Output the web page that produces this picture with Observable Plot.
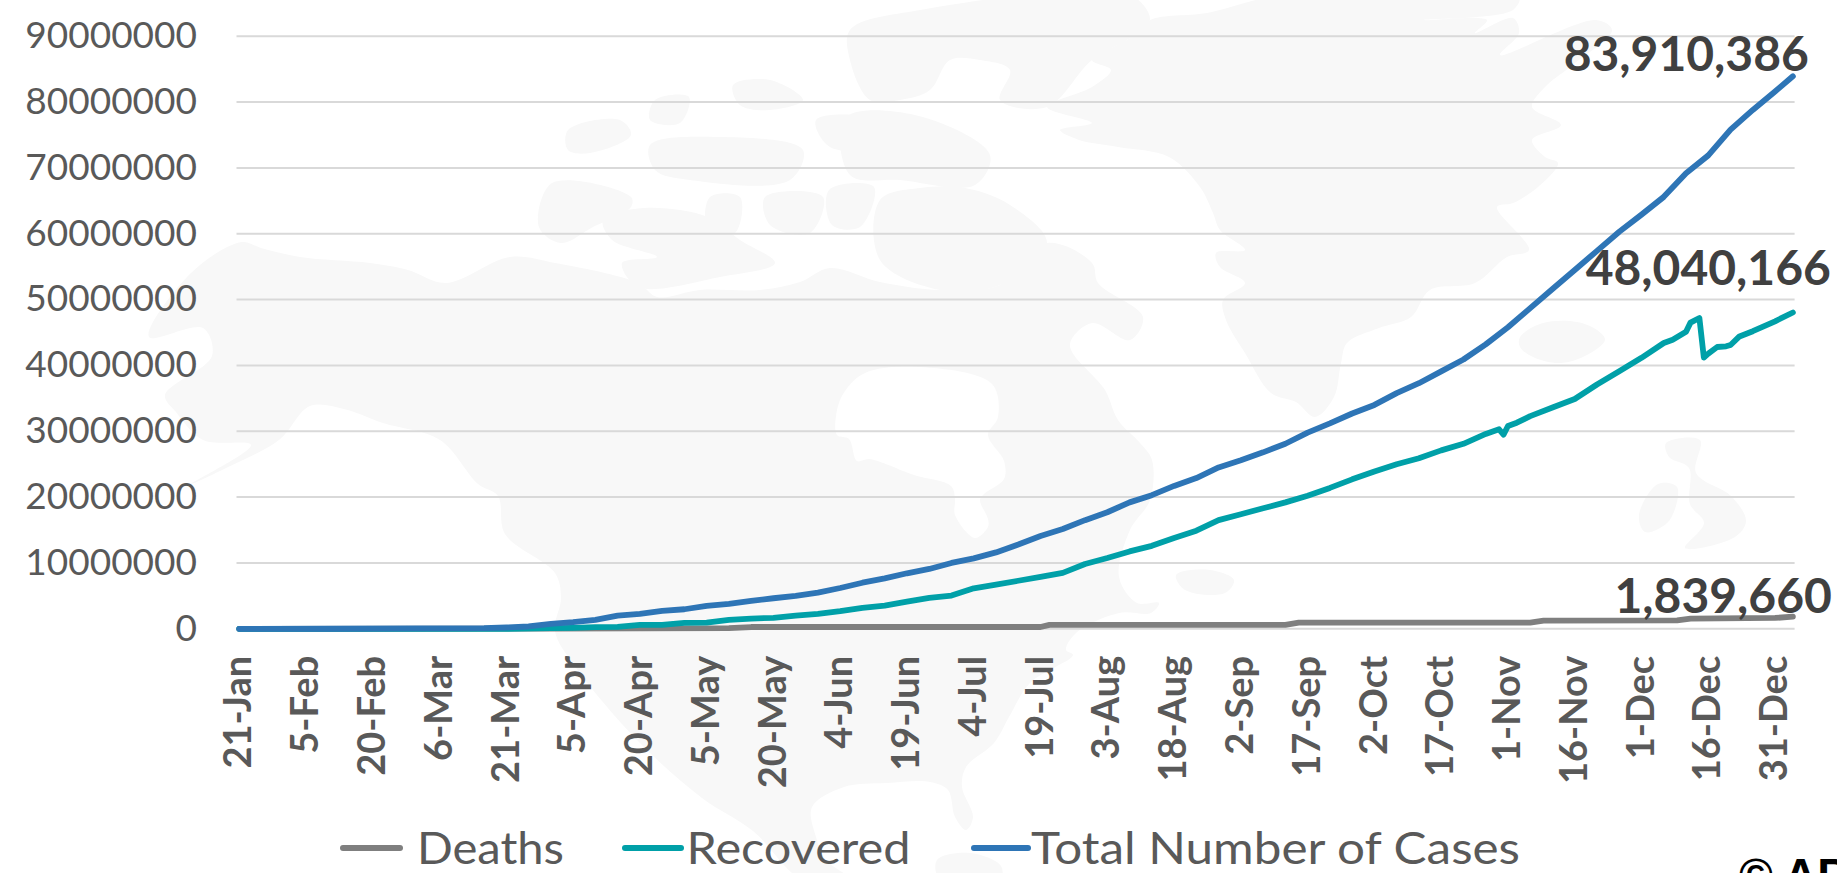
<!DOCTYPE html>
<html>
<head>
<meta charset="utf-8">
<script src="https://cdn.jsdelivr.net/npm/d3@7"></script>
<script src="https://cdn.jsdelivr.net/npm/@observablehq/plot@0.6"></script>
<style>
html,body{margin:0;padding:0;background:#fff;overflow:hidden}
svg{display:block}
</style>
</head>
<body>
<div id="chart"></div>
<script>
// ---- data (values in millions, days counted from 21-Jan-2020) ----
const tickLabels = ["21-Jan","5-Feb","20-Feb","6-Mar","21-Mar","5-Apr","20-Apr","5-May","20-May","4-Jun","19-Jun","4-Jul","19-Jul","3-Aug","18-Aug","2-Sep","17-Sep","2-Oct","17-Oct","1-Nov","16-Nov","1-Dec","16-Dec","31-Dec"];
const yTicks = [0,10,20,30,40,50,60,70,80,90];

const totalDays = [0,20,40,55,60,65,70,75,80,85,90,95,100,105,110,115,120,125,130,135,140,145,150,155,160,165,170,175,180,185,190,195,200,205,210,215,220,225,230,235,240,245,250,255,260,265,270,275,280,285,290,295,300,305,310,315,320,325,330,335,340,345,349];
const totalCases = [0,0.01,0.05,0.1,0.2,0.35,0.75,1.0,1.36,2.0,2.27,2.72,2.97,3.48,3.79,4.24,4.64,5.0,5.5,6.2,7.0,7.67,8.43,9.09,10.0,10.7,11.6,12.8,14.1,15.15,16.5,17.7,19.2,20.3,21.7,22.9,24.5,25.6,26.8,28.1,29.8,31.2,32.7,34.0,35.8,37.3,39.1,40.9,43.2,45.8,48.7,51.6,54.5,57.4,60.3,62.9,65.6,69.2,71.9,75.8,78.8,81.6,83.910386];

const recoveredDays = [0,60,70,75,80,85,90,95,100,105,110,115,120,125,130,135,140,145,150,155,160,165,170,175,180,185,190,195,200,205,210,215,220,225,230,235,240,245,250,255,260,265,270,275,280,283,284,285,287,290,295,300,305,310,315,320,322,325,326,328,329,330,332,334,335,337,340,345,349];
const recovered = [0,0,0.1,0.15,0.25,0.3,0.6,0.6,0.9,0.95,1.36,1.56,1.67,2.0,2.27,2.67,3.18,3.53,4.14,4.7,5.05,6.15,6.7,7.3,7.9,8.5,9.85,10.75,11.75,12.6,13.8,14.9,16.5,17.4,18.3,19.2,20.2,21.4,22.7,23.9,25.0,25.9,27.1,28.1,29.6,30.3,29.5,30.8,31.3,32.3,33.6,34.9,37.1,39.1,41.15,43.4,43.9,45.1,46.5,47.2,41.2,41.8,42.8,42.9,43.1,44.4,45.2,46.7,48.040166];

const deathDays = [0,70,90,110,115,180,182,235,238,290,293,323,326,345,349];
const deaths = [0,0.02,0.05,0.1,0.27,0.27,0.6,0.6,0.93,0.95,1.25,1.27,1.55,1.65,1.83966];

const seriesNames = ["Deaths","Recovered","Total Number of Cases"];
const seriesColors = ["#7f7f7f","#00a0a8","#2e75b6"];
const valueLabels = ["1,839,660","48,040,166","83,910,386"];

// ---- faint world-map watermark, traced in page pixels ----
const land = [
 [[149,337],[191,273],[242,242],[261,248],[300,257],[370,263],[408,270],[446,283],[510,257],[555,263],[638,283],[657,297],[700,290],[760,290],[800,282],[830,268],[880,282],[940,290],[1000,285],[1047,243],[1092,263],[1098,283],[1143,317],[1130,340],[1092,323],[1070,345],[1105,390],[1118,420],[1140,443],[1152,460],[1150,500],[1130,530],[1119,577],[1137,603],[1159,603],[1151,613],[1119,613],[1076,633],[1066,650],[1073,655],[1030,683],[1009,717],[994,743],[966,767],[962,787],[973,817],[966,830],[955,817],[948,790],[930,782],[887,783],[844,787],[812,807],[816,837],[826,860],[851,880],[803,880],[753,831],[702,798],[638,741],[574,665],[555,631],[561,598],[555,573],[505,534],[498,496],[478,484],[440,440],[383,423],[344,409],[310,406],[279,440],[226,468],[191,484],[251,445],[203,440],[176,412],[165,395],[212,356],[203,328]],
 [[1150,20],[1207,13],[1283,-5],[1519,-5],[1513,10],[1424,20],[1487,20],[1475,33],[1513,18],[1519,33],[1500,55],[1596,20],[1612,30],[1570,67],[1545,87],[1532,107],[1561,125],[1532,140],[1545,157],[1558,163],[1538,187],[1513,203],[1497,207],[1529,250],[1507,257],[1475,283],[1430,290],[1411,317],[1379,328],[1347,343],[1341,363],[1334,397],[1315,417],[1296,402],[1271,393],[1245,353],[1226,320],[1223,300],[1245,283],[1220,267],[1216,253],[1245,250],[1220,230],[1213,213],[1200,187],[1169,157],[1118,147],[1079,140],[1060,130],[1092,123],[1047,107],[1092,87],[1111,70],[1092,60],[1130,38]],
 [[1520,337],[1543,323],[1577,322],[1597,330],[1605,340],[1587,355],[1560,363],[1533,357],[1520,347]],
 [[1666,443],[1700,440],[1696,473],[1731,496],[1746,521],[1735,537],[1685,548],[1704,523],[1690,504],[1689,468],[1669,457]],
 [[1658,484],[1677,487],[1669,521],[1645,532],[1639,515]],
 [[880,200],[920,188],[965,188],[1010,205],[1047,243],[1000,285],[940,290],[880,260]],
 [[850,30],[920,10],[1130,-5],[1150,20],[1130,38],[1092,60],[1047,107],[1000,100],[1010,70],[980,60],[950,60],[930,90],[900,100],[870,100],[850,60]],
 [[845,118],[915,115],[990,155],[975,185],[900,180],[850,175]],
 [[816,120],[880,117],[937,135],[900,147],[830,147]],
 [[650,145],[720,137],[803,150],[790,180],[690,180],[655,170]],
 [[568,130],[620,120],[631,135],[590,153],[568,150]],
 [[733,85],[770,80],[803,100],[770,110],[740,105]],
 [[655,100],[689,97],[680,123],[650,120]],
 [[552,183],[631,197],[631,207],[593,227],[561,243],[539,227]],
 [[644,208],[708,217],[740,240],[775,263],[720,277],[638,287],[622,263],[657,257],[612,240],[603,220]],
 [[710,197],[740,197],[735,233],[708,230]],
 [[765,197],[823,197],[810,233],[770,225]],
 [[829,190],[874,187],[860,227],[832,225]],
 [[1176,575],[1210,570],[1234,580],[1225,593],[1185,590]],
 [[937,860],[970,853],[1001,866],[1000,880],[940,880]]
];
const hudsonBay = [[837,410],[845,391],[865,373],[920,367],[992,384],[998,417],[988,435],[1004,461],[1004,479],[984,494],[980,500],[988,519],[988,527],[975,538],[955,515],[955,499],[951,486],[914,475],[869,459],[857,461],[849,439],[837,435]];

// ---- tables ----
const start = Date.UTC(2020,0,21);
const toDate = d => new Date(start + d*864e5);
const rows = (days, vals) => days.map((d,i)=>({date:toDate(d), value:vals[i]*1e6}));
const series = [rows(deathDays,deaths), rows(recoveredDays,recovered), rows(totalDays,totalCases)];
const tickDates = tickLabels.map((_,i)=>toDate(i*15));
const labelOf = new Map(tickDates.map((d,i)=>[+d,tickLabels[i]]));

// ---- decoration marks ----
const smooth = d3.line().curve(d3.curveCatmullRomClosed.alpha(0.5));
const mapMark = () => {
  const g = d3.create("svg:g");
  g.selectAll("path.land").data(land).join("path").attr("d",p=>smooth(p)).attr("fill","#f8f8f8");
  g.append("path").attr("d",smooth(hudsonBay)).attr("fill","#fff");
  return g.node();
};
const legendMark = () => {
  const g = d3.create("svg:g").attr("text-anchor","start");
  const swatches = [[343,400],[625,681],[974,1028]];
  const labelX = [417,686.5,1031];
  seriesNames.forEach((name,i)=>{
    g.append("line").attr("x1",swatches[i][0]).attr("x2",swatches[i][1]).attr("y1",848).attr("y2",848)
     .attr("stroke",seriesColors[i]).attr("stroke-width",6).attr("stroke-linecap","round");
    g.append("text").attr("x",labelX[i]).attr("y",864).attr("fill","#595959")
     .attr("font-size",45).attr("textLength",[147,224,489][i]).attr("lengthAdjust","spacingAndGlyphs").text(name);
  });
  g.append("text").attr("x",1739).attr("y",891).attr("fill","#000").attr("font-family","Liberation Sans")
   .attr("font-weight","bold").attr("font-size",46).text("© AP");
  return g.node();
};

const labelOffsets = [{dx:39,dy:-19},{dx:38,dy:-43},{dx:16,dy:-21}];

const plot = Plot.plot({
  width:1837, height:873,
  marginLeft:236.5, marginRight:42.4, marginTop:35.7, marginBottom:244.7,
  style:{fontFamily:"Lato", background:"transparent", color:"#595959"},
  x:{type:"utc", domain:[toDate(-0.5),toDate(349.5)], label:null},
  y:{domain:[0,90e6], label:null},
  marks:[
    mapMark,
    Plot.gridY(yTicks.map(v=>v*1e6),{stroke:"#d9d9d9",strokeOpacity:1,strokeWidth:2}),
    Plot.axisY({ticks:yTicks.map(v=>v*1e6), tickFormat:v=>String(v), tickSize:0, tickPadding:40, fontSize:37, label:null, fill:"#595959"}),
    Plot.axisX({ticks:tickDates, tickFormat:d=>labelOf.get(+d), tickSize:0, tickPadding:27, tickRotate:-90, fontSize:38, fontWeight:"bold", label:null, fill:"#595959"}),
    ...series.map((s,i)=>Plot.line(s,{x:"date",y:"value",stroke:seriesColors[i],strokeWidth:5.8,strokeLinecap:"round",strokeLinejoin:"round"})),
    ...series.map((s,i)=>Plot.text([s[s.length-1]],{x:"date",y:"value",text:()=>valueLabels[i],textAnchor:"end",dx:labelOffsets[i].dx,dy:labelOffsets[i].dy,fontSize:48,fontWeight:"bold",fill:"#404040"})),
    legendMark
  ]
});
document.getElementById("chart").append(plot);
</script>
</body>
</html>
